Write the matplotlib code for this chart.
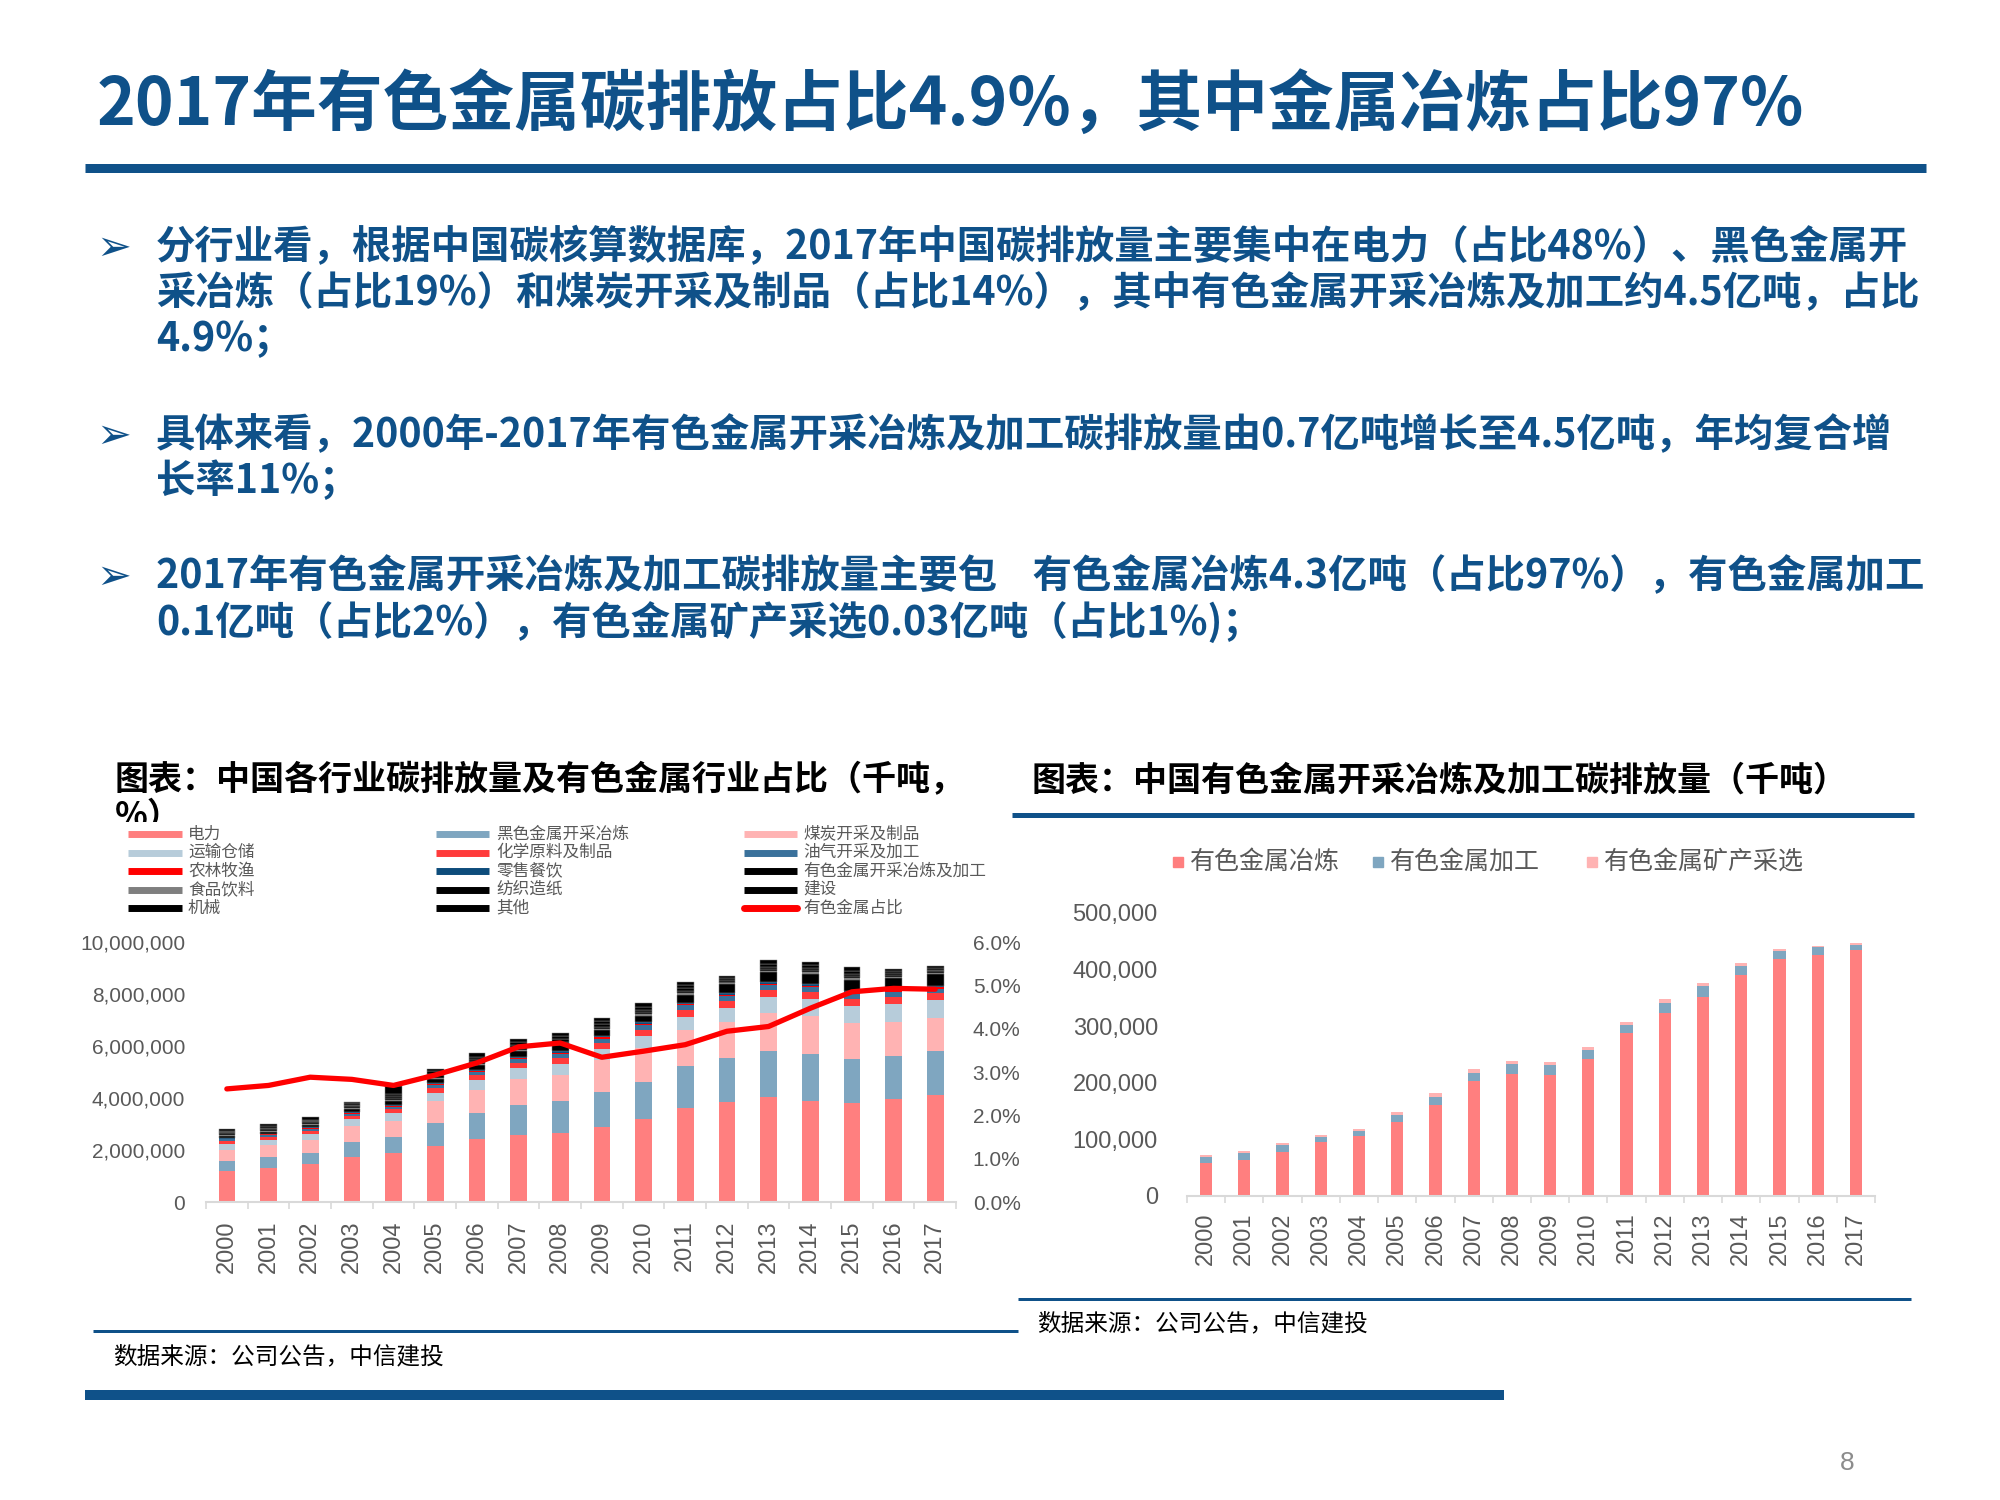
import matplotlib
matplotlib.use("Agg")
import matplotlib.pyplot as plt
from matplotlib.lines import Line2D
from matplotlib.patches import Rectangle
from matplotlib.ticker import FuncFormatter

plt.rcParams['font.family'] = ['Noto Sans CJK SC', 'DejaVu Sans']

# ---------------- data ----------------
years = [str(y) for y in range(2000, 2018)]

# 中国各行业碳排放量 (百万吨 -> stored in 千吨 later)
power =     [1.21, 1.30, 1.45, 1.72, 1.89, 2.14, 2.42, 2.59, 2.66, 2.89, 3.18, 3.61, 3.85, 4.05, 3.89, 3.82, 3.95, 4.13]
ferrous =   [0.38, 0.43, 0.43, 0.60, 0.62, 0.89, 0.99, 1.13, 1.21, 1.36, 1.45, 1.62, 1.67, 1.77, 1.82, 1.69, 1.68, 1.66]
coal =      [0.42, 0.47, 0.51, 0.61, 0.61, 0.85, 0.89, 1.01, 1.02, 1.20, 1.29, 1.38, 1.40, 1.46, 1.46, 1.36, 1.30, 1.27]
transport = [0.22, 0.19, 0.22, 0.25, 0.32, 0.33, 0.38, 0.41, 0.43, 0.43, 0.47, 0.52, 0.56, 0.60, 0.62, 0.68, 0.69, 0.71]
chemical =  [0.10, 0.10, 0.11, 0.12, 0.13, 0.17, 0.19, 0.21, 0.22, 0.23, 0.24, 0.25, 0.25, 0.27, 0.27, 0.26, 0.25, 0.25]
oilgas =    [0.08, 0.08, 0.09, 0.10, 0.10, 0.13, 0.14, 0.15, 0.16, 0.17, 0.18, 0.18, 0.19, 0.19, 0.20, 0.20, 0.20, 0.19]
farming =   [0.03, 0.03, 0.03, 0.04, 0.04, 0.04, 0.04, 0.05, 0.05, 0.05, 0.05, 0.05, 0.05, 0.06, 0.06, 0.06, 0.06, 0.06]
retail =    [0.03, 0.03, 0.03, 0.03, 0.04, 0.04, 0.04, 0.04, 0.04, 0.04, 0.05, 0.05, 0.05, 0.05, 0.05, 0.05, 0.05, 0.05]
nonferrous = [0.072, 0.079, 0.093, 0.109, 0.118, 0.148, 0.182, 0.224, 0.239, 0.236, 0.263, 0.308, 0.348, 0.377, 0.412, 0.436, 0.442, 0.447]
food =      [0.04, 0.04, 0.04, 0.04, 0.05, 0.05, 0.05, 0.05, 0.05, 0.05, 0.05, 0.06, 0.04, 0.05, 0.05, 0.05, 0.04, 0.04]
textile =   [0.06, 0.06, 0.06, 0.06, 0.08, 0.08, 0.09, 0.09, 0.09, 0.09, 0.09, 0.09, 0.07, 0.09, 0.08, 0.09, 0.07, 0.06]
building =  [0.04, 0.05, 0.05, 0.05, 0.06, 0.07, 0.08, 0.09, 0.09, 0.09, 0.09, 0.10, 0.07, 0.09, 0.09, 0.09, 0.07, 0.06]
machinery = [0.05, 0.06, 0.06, 0.06, 0.08, 0.09, 0.10, 0.11, 0.11, 0.11, 0.11, 0.12, 0.08, 0.11, 0.10, 0.11, 0.08, 0.07]
others =    [0.06, 0.07, 0.08, 0.07, 0.32, 0.10, 0.12, 0.13, 0.13, 0.13, 0.13, 0.13, 0.07, 0.13, 0.11, 0.13, 0.08, 0.08]
# 有色金属占比
nf_share = [0.0261, 0.0269, 0.0288, 0.0283, 0.0269, 0.0293, 0.0321, 0.0358, 0.0367, 0.0334,
            0.0348, 0.0363, 0.0394, 0.0405, 0.0447, 0.0485, 0.0493, 0.0491]

# 中国有色金属开采冶炼及加工碳排放量 (千吨)
smelting =   [57.9, 64.3, 77.9, 95.6, 106.3, 131.6, 160.0, 202.5, 214.9, 214.3, 242.6, 288.7, 324.1, 352.4, 390.8, 417.9, 426.2, 433.9]
processing = [11.0, 12.0, 12.4, 9.0, 7.7, 11.8, 15.3, 15.3, 18.9, 17.7, 15.4, 13.5, 17.7, 18.9, 14.7, 14.2, 13.0, 10.0]
mining =     [3.0, 3.0, 3.0, 4.0, 4.0, 4.7, 6.5, 5.9, 4.7, 4.1, 5.3, 5.4, 6.5, 5.3, 6.5, 4.1, 3.0, 3.0]

sector_names = ['电力', '黑色金属开采冶炼', '煤炭开采及制品', '运输仓储', '化学原料及制品', '油气开采及加工',
                '农林牧渔', '零售餐饮', '有色金属开采冶炼及加工', '食品饮料', '纺织造纸', '建设', '机械', '其他']
sector_values = [power, ferrous, coal, transport, chemical, oilgas, farming, retail, nonferrous,
                 food, textile, building, machinery, others]
sector_colors = ['#FF7F7F', '#7FA6C0', '#FFB3B3', '#B7CCDA', '#FF3B3B', '#3A719B', '#FF0000', '#0D4C7B',
                 '#000000', '#7F7F7F', '#000000', '#000000', '#000000', '#000000']
share_name = '有色金属占比'

nf_names = ['有色金属冶炼', '有色金属加工', '有色金属矿产采选']
nf_values = [smelting, processing, mining]
nf_colors = ['#FF7F7F', '#7FA6C0', '#FFB3B3']

BLUE = '#0F5189'
GRAY = '#595959'
W, H = 2000, 1500


def fx(x):
    return x / W


def fy(y):
    return 1 - y / H


def hline(x0, x1, y, px, color=BLUE, z=1):
    fig.add_artist(Line2D([fx(x0), fx(x1)], [fy(y), fy(y)], transform=fig.transFigure,
                          color=color, lw=px * 0.72, solid_capstyle='butt', zorder=z))


fig = plt.figure(figsize=(20, 15), dpi=100)

# ---------------- header and bullets ----------------
fig.text(fx(97), fy(105), '2017年有色金属碳排放占比4.9%，其中金属冶炼占比97%',
         fontsize=47.3, fontweight='bold', color=BLUE, va='center')
hline(85, 1926, 168, 9)

bullets = [
    ['分行业看，根据中国碳核算数据库，2017年中国碳排放量主要集中在电力（占比48%）、黑色金属开',
     '采冶炼（占比19%）和煤炭开采及制品（占比14%），其中有色金属开采冶炼及加工约4.5亿吨，占比',
     '4.9%；'],
    ['具体来看，2000年-2017年有色金属开采冶炼及加工碳排放量由0.7亿吨增长至4.5亿吨，年均复合增',
     '长率11%；'],
    ['2017年有色金属开采冶炼及加工碳排放量主要包    有色金属冶炼4.3亿吨（占比97%），有色金属加工',
     '0.1亿吨（占比2%），有色金属矿产采选0.03亿吨（占比1%)；'],
]
bullet_y = [248, 436, 577]
for lines, y0 in zip(bullets, bullet_y):
    fig.text(fx(96), fy(y0), '➢', fontsize=30, color=BLUE, va='center',
             family=['DejaVu Sans'])
    for i, line in enumerate(lines):
        fig.text(fx(156), fy(y0 + i * 46), line, fontsize=28.35, fontweight='bold',
                 color=BLUE, va='center')

# ---------------- chart titles and frames ----------------
fig.text(fx(115), fy(780), '图表：中国各行业碳排放量及有色金属行业占比（千吨，',
         fontsize=24.5, fontweight='bold', color='black', va='center', zorder=1)
fig.text(fx(115), fy(816), '%）', fontsize=24.5, fontweight='bold', color='black',
         va='center', zorder=1)
fig.add_artist(Rectangle((fx(100), fy(845)), fx(300), 23 / H, transform=fig.transFigure,
                         facecolor='white', edgecolor='none', zorder=2))

fig.text(fx(1032), fy(780), '图表：中国有色金属开采冶炼及加工碳排放量（千吨）',
         fontsize=24.5, fontweight='bold', color='black', va='center')
hline(1012, 1914, 815, 5)

hline(93, 1018, 1331, 3)
hline(1018, 1911, 1299, 3)
hline(85, 1504, 1395, 10)
fig.text(fx(113), fy(1357), '数据来源：公司公告，中信建投', fontsize=17, color='black',
         va='center', style='italic')
fig.text(fx(1037), fy(1324), '数据来源：公司公告，中信建投', fontsize=17, color='black',
         va='center', style='italic')
fig.text(fx(1847), fy(1463), '8', fontsize=19, color='#8C8C8C', ha='center', va='center',
         family=['Liberation Sans'])

# ---------------- left legend ----------------
leg_cols = [(128, 182, 188), (436, 489, 496), (744, 797, 803)]
leg_rows = [834, 852.5, 871, 889.5, 908]
leg_items = list(zip(sector_names, sector_colors)) + [(share_name, '#FF0000')]
for k, (name, col) in enumerate(leg_items):
    r, c = divmod(k, 3)
    x0, x1, xt = leg_cols[c]
    y = leg_rows[r]
    cap = 'round' if name == share_name else 'butt'
    fig.add_artist(Line2D([fx(x0), fx(x1)], [fy(y), fy(y)], transform=fig.transFigure,
                          color=col, lw=5, solid_capstyle=cap, zorder=3))
    fig.text(fx(xt), fy(y), name, fontsize=12, color=GRAY, va='center', zorder=3)

# ---------------- left chart ----------------
ax1 = fig.add_axes([fx(206), fy(1202), 750 / W, 260 / H])
x = list(range(len(years)))
bottom = [0.0] * len(years)
for name, vals, col in zip(sector_names, sector_values, sector_colors):
    kt = [v * 1e6 for v in vals]
    edge = '#8A8A8A' if col == '#000000' else 'none'
    ax1.bar(x, kt, 0.4, bottom=bottom, color=col, edgecolor=edge,
            linewidth=0.35 if edge != 'none' else 0, label=name)
    bottom = [b + v for b, v in zip(bottom, kt)]

ax1.set_xlim(-0.5, len(years) - 0.5)
ax1.set_ylim(0, 10_000_000)
ax1.set_yticks(range(0, 10_000_001, 2_000_000))
ax1.yaxis.set_major_formatter(FuncFormatter(lambda v, p: f'{int(v):,}'))
ax1.set_xticks(x)
ax1.set_xticklabels(years, rotation=90)
ax1.set_xticks([i - 0.5 for i in range(len(years) + 1)], minor=True)
ax1.tick_params(axis='x', which='major', length=0, pad=13, labelsize=17, labelcolor=GRAY)
ax1.tick_params(axis='x', which='minor', length=5, width=1.2, color='#D9D9D9')
ax1.tick_params(axis='y', length=0, pad=15, labelsize=15, labelcolor=GRAY)
for s in ['top', 'right', 'left']:
    ax1.spines[s].set_visible(False)
ax1.spines['bottom'].set_color('#D9D9D9')
ax1.spines['bottom'].set_linewidth(1.5)

ax2 = ax1.twinx()
ax2.plot(x, nf_share, color='#FF0000', lw=3.8, solid_joinstyle='round',
         solid_capstyle='round', label=share_name)
ax2.set_ylim(0, 0.06)
ax2.set_yticks([i / 100 for i in range(7)])
ax2.yaxis.set_major_formatter(FuncFormatter(lambda v, p: f'{v * 100:.1f}%'))
ax2.tick_params(axis='y', length=0, pad=12, labelsize=15, labelcolor=GRAY)
for s in ['top', 'right', 'left', 'bottom']:
    ax2.spines[s].set_visible(False)

for a in (ax1, ax2):
    for lab in a.get_xticklabels() + a.get_yticklabels():
        lab.set_family(['Liberation Sans'])

# ---------------- right chart ----------------
ax3 = fig.add_axes([fx(1187), fy(1196), 688 / W, 283 / H])
bottom = [0.0] * len(years)
for name, vals, col in zip(nf_names, nf_values, nf_colors):
    kt = [v * 1000 for v in vals]
    ax3.bar(x, kt, 0.32, bottom=bottom, color=col, label=name)
    bottom = [b + v for b, v in zip(bottom, kt)]
ax3.set_xlim(-0.5, len(years) - 0.5)
ax3.set_ylim(0, 500_000)
ax3.set_yticks(range(0, 500_001, 100_000))
ax3.yaxis.set_major_formatter(FuncFormatter(lambda v, p: f'{int(v):,}'))
ax3.set_xticks(x)
ax3.set_xticklabels(years, rotation=90)
ax3.set_xticks([i - 0.5 for i in range(len(years) + 1)], minor=True)
ax3.tick_params(axis='x', which='major', length=0, pad=12, labelsize=17, labelcolor=GRAY)
ax3.tick_params(axis='x', which='minor', length=5, width=1.2, color='#D9D9D9')
ax3.tick_params(axis='y', length=0, pad=21, labelsize=17, labelcolor=GRAY)
for s in ['top', 'right', 'left']:
    ax3.spines[s].set_visible(False)
ax3.spines['bottom'].set_color('#D9D9D9')
ax3.spines['bottom'].set_linewidth(1.5)
for lab in ax3.get_xticklabels() + ax3.get_yticklabels():
    lab.set_family(['Liberation Sans'])

# right legend
for name, col, xm in zip(nf_names, nf_colors, [1178, 1378, 1592]):
    fig.add_artist(Line2D([fx(xm)], [fy(862)], transform=fig.transFigure, marker='s',
                          markersize=7.5, color=col, linestyle='none'))
    fig.text(fx(xm + 12), fy(862), name, fontsize=18, color=GRAY, va='center')

fig.savefig('out.png', dpi=100, facecolor='white')
